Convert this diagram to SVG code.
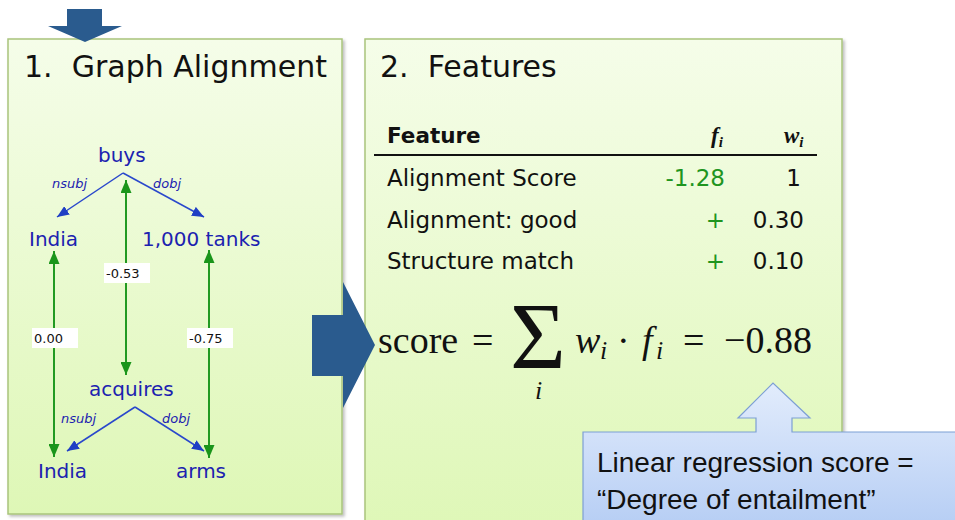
<svg xmlns="http://www.w3.org/2000/svg" width="955" height="520" viewBox="0 0 955 520">
<style>
.panel{stroke:#a9c47c;stroke-width:1.5;fill:url(#pg)}
.title{font-family:"DejaVu Sans",sans-serif;font-size:30px;fill:#111}
.node{font-family:"DejaVu Sans",sans-serif;font-size:20px;fill:#1c22b0}
.rel{font-family:"DejaVu Sans",sans-serif;font-size:13px;font-style:italic;fill:#1c22b0}
.dep{stroke:#2a48cc;stroke-width:1.5;fill:none;marker-end:url(#mb)}
.al{stroke:#229a22;stroke-width:2;fill:none;marker-start:url(#mgs);marker-end:url(#mg)}
.lbox{fill:#fff}
.ltxt{font-family:"DejaVu Sans",sans-serif;font-size:13px;fill:#111}
.row{font-family:"DejaVu Sans",sans-serif;font-size:23px;fill:#111}
.grn{fill:#1f951f}
.math{font-family:"Liberation Serif",serif;fill:#111}
.big{fill:#2a5b8e}
.call{font-family:"Liberation Sans",sans-serif;font-size:28px;fill:#111}
</style>
<defs>
<linearGradient id="pg" x1="0" y1="0" x2="0" y2="1">
<stop offset="0" stop-color="#f5fde9"/>
<stop offset="1" stop-color="#def7b6"/>
</linearGradient>
<linearGradient id="cg" x1="0" y1="0" x2="0" y2="1">
<stop offset="0" stop-color="#e2ecfc"/>
<stop offset="1" stop-color="#b5cdf4"/>
</linearGradient>
<filter id="sh" x="-5%" y="-5%" width="110%" height="110%">
<feDropShadow dx="2" dy="2" stdDeviation="1.5" flood-color="#000" flood-opacity="0.25"/>
</filter>
<marker id="mb" markerWidth="12" markerHeight="10" refX="12" refY="5" orient="auto" markerUnits="userSpaceOnUse">
<path d="M0,0 L12,5 L0,10 Z" fill="#1f3fc4"/>
</marker>
<marker id="mg" markerWidth="13" markerHeight="11" refX="13" refY="5.5" orient="auto" markerUnits="userSpaceOnUse">
<path d="M0,0 L13,5.5 L0,11 Z" fill="#1a951a"/>
</marker>
<marker id="mgs" markerWidth="13" markerHeight="11" refX="0" refY="5.5" orient="auto" markerUnits="userSpaceOnUse">
<path d="M13,0 L0,5.5 L13,11 Z" fill="#1a951a"/>
</marker>
</defs>

<g id="panel1">
<rect class="panel" x="8" y="39" width="334" height="475" filter="url(#sh)"/>
<text class="title" x="24" y="77" xml:space="preserve">1.  Graph Alignment</text>
</g>
<g id="panel2">
<rect class="panel" x="365" y="39" width="477" height="500" filter="url(#sh)"/>
<text class="title" x="380" y="77" xml:space="preserve">2.  Features</text>
</g>

<g id="top-arrow">
<polygon class="big" points="67,9 102,9 102,26 122,26 85,42 48,26 67,26"/>
</g>

<g id="node-buys"><text class="node" x="98" y="162">buys</text></g>
<g id="node-india1"><text class="node" x="29" y="246">India</text></g>
<g id="node-tanks"><text class="node" x="142" y="246">1,000 tanks</text></g>
<g id="node-acquires"><text class="node" x="89" y="396">acquires</text></g>
<g id="node-india2"><text class="node" x="38" y="478">India</text></g>
<g id="node-arms"><text class="node" x="176" y="478">arms</text></g>

<g id="connectors">
<path class="dep" d="M123,173 L57,217"/>
<path class="dep" d="M123,173 L204,217"/>
<path class="dep" d="M135,407 L67,451"/>
<path class="dep" d="M135,407 L204,451"/>
<text class="rel" x="52" y="188">nsubj</text>
<text class="rel" x="153" y="188">dobj</text>
<text class="rel" x="61" y="423">nsubj</text>
<text class="rel" x="162" y="423">dobj</text>

<path class="al" d="M54,251 L54,457"/>
<path class="al" d="M126,180 L126,375"/>
<path class="al" d="M209,250 L209,458"/>
<rect class="lbox" x="32" y="328" width="46" height="20"/>
<text class="ltxt" x="34" y="343">0.00</text>
<rect class="lbox" x="104" y="263" width="46" height="20"/>
<text class="ltxt" x="106" y="278">-0.53</text>
<rect class="lbox" x="187" y="328" width="46" height="20"/>
<text class="ltxt" x="189" y="343">-0.75</text>
</g>

<g id="table">
<text x="387" y="143" style="font-family:'DejaVu Sans',sans-serif;font-size:21.5px;font-weight:bold;fill:#111">Feature</text>
<text class="math" x="711" y="143" style="font-size:23px;font-style:italic;font-weight:bold">f<tspan dy="4" font-size="15">i</tspan></text>
<text class="math" x="784" y="143" style="font-size:23px;font-style:italic;font-weight:bold">w<tspan dy="4" font-size="15">i</tspan></text>
<line x1="374" y1="155" x2="817" y2="155" stroke="#111" stroke-width="2"/>
<text class="row" x="387" y="186">Alignment Score</text>
<text class="row grn" x="725" y="186" text-anchor="end">-1.28</text>
<text class="row" x="801" y="186" text-anchor="end">1</text>
<text class="row" x="387" y="228">Alignment: good</text>
<text class="row grn" x="725" y="228" text-anchor="end">+</text>
<text class="row" x="804" y="228" text-anchor="end">0.30</text>
<text class="row" x="387" y="269">Structure match</text>
<text class="row grn" x="725" y="269" text-anchor="end">+</text>
<text class="row" x="804" y="269" text-anchor="end">0.10</text>
</g>

<g id="formula">
<text class="math" x="378" y="353" font-size="38">score</text>
<text class="math" x="472" y="353" font-size="38">=</text>
<text class="math" x="510" y="369" font-size="96">Σ</text>
<text class="math" x="535" y="399" font-size="26" font-style="italic">i</text>
<text class="math" x="575" y="353" font-size="38" font-style="italic">w</text>
<text class="math" x="600" y="359" font-size="26" font-style="italic">i</text>
<text class="math" x="617" y="353" font-size="38">·</text>
<text class="math" x="642" y="353" font-size="38" font-style="italic">f</text>
<text class="math" x="656" y="359" font-size="26" font-style="italic">i</text>
<text class="math" x="683" y="353" font-size="38">=</text>
<text class="math" x="724" y="353" font-size="38">−0.88</text>
</g>

<g id="big-arrow">
<polygon class="big" points="312,315 343,315 343,282 375,345 343,408 343,376 312,376"/>
</g>

<g id="callout">
<path d="M583,432 L756,432 L756,418 L738,418 L773,383 L810,418 L792,418 L792,432 L962,432 L962,530 L583,530 Z" fill="url(#cg)" stroke="#7d9fd4" stroke-width="1.2"/>
<text class="call" x="597" y="472">Linear regression score =</text>
<text class="call" x="597" y="509">“Degree of entailment”</text>
</g>
</svg>
